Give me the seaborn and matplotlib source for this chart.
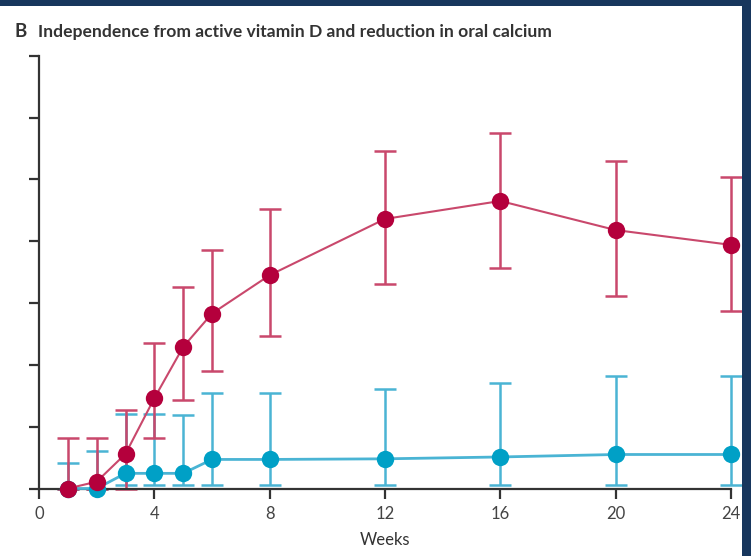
import numpy as np
import pandas as pd
import matplotlib
matplotlib.use("Agg")
import matplotlib.pyplot as plt
import seaborn as sns
from matplotlib.patches import Rectangle

# Weeks of follow-up
weeks = [1, 2, 3, 4, 5, 6, 8, 12, 16, 20, 24]

# Treatment group: proportion independent (%) with 95% CI bounds
red_mid = [0.0, 1.1, 5.6, 14.6, 22.9, 28.3, 34.5, 43.6, 46.5, 41.8, 39.4]
red_lo = [0.0, 0.0, 0.0, 8.1, 14.3, 19.0, 24.6, 33.0, 35.6, 31.1, 28.7]
red_hi = [8.1, 8.1, 12.7, 23.5, 32.6, 38.5, 45.2, 54.6, 57.5, 53.0, 50.4]

# Control group
blue_mid = [0.0, 0.0, 2.45, 2.45, 2.45, 4.7, 4.7, 4.8, 5.1, 5.5, 5.5]
blue_lo = [0.0, 0.0, 0.5, 0.5, 0.5, 0.55, 0.55, 0.55, 0.55, 0.55, 0.55]
blue_hi = [4.2, 6.1, 12.0, 12.0, 11.9, 15.5, 15.5, 16.1, 17.1, 18.2, 18.2]

x_ticks = [0, 4, 8, 12, 16, 20, 24]
y_ticks = [0, 10, 20, 30, 40, 50, 60, 70]

RED = "#b4003c"
RED_LINE = "#c9486c"
BLUE = "#00a0c6"
BLUE_LINE = "#4ab4d4"
AXIS = "#333333"

sns.set_theme(style="white")
plt.rcParams["font.family"] = ["Lato", "DejaVu Sans"]

df = pd.concat([
    pd.DataFrame({"week": weeks, "value": red_mid, "group": "active"}),
    pd.DataFrame({"week": weeks, "value": blue_mid, "group": "control"}),
])

fig = plt.figure(figsize=(7.51, 5.56), dpi=100)
ax = fig.add_axes([39 / 751, 1 - 488.5 / 556, (731 - 39) / 751, (488.5 - 55.7) / 556])

groups = [
    ("control", blue_mid, blue_lo, blue_hi, BLUE, BLUE_LINE, 2.0),
    ("active", red_mid, red_lo, red_hi, RED, RED_LINE, 1.5),
]
for name, mid, lo, hi, col, lcol, lw in groups:
    mid_a = np.array(mid)
    yerr = np.vstack([mid_a - np.array(lo), np.array(hi) - mid_a])
    ax.errorbar(weeks, mid, yerr=yerr, fmt="none", ecolor=lcol, elinewidth=1.8,
                capsize=8.0, capthick=1.8, clip_on=False, zorder=2)
    sns.lineplot(data=df[df["group"] == name], x="week", y="value", ax=ax,
                 color=lcol, linewidth=lw, marker="o", markersize=12.5,
                 markerfacecolor=col, markeredgecolor=col, markeredgewidth=0,
                 clip_on=False, zorder=3, legend=False)

ax.set_xlim(0, 24)
ax.set_ylim(0, 70)
ax.set_xticks(x_ticks)
ax.set_xticklabels([str(t) for t in x_ticks])
ax.set_yticks(y_ticks)
ax.set_yticklabels([])
ax.set_xlabel("Weeks", fontsize=12, color="#333333", labelpad=7)
ax.set_ylabel("")

for side in ["top", "right"]:
    ax.spines[side].set_visible(False)
for side in ["left", "bottom"]:
    ax.spines[side].set_color(AXIS)
    ax.spines[side].set_linewidth(1.6)
ax.tick_params(axis="both", direction="out", length=7.5, width=1.6, color=AXIS,
               labelsize=12, labelcolor="#444444", pad=5)
ax.tick_params(axis="y", left=True)
ax.tick_params(axis="x", bottom=True)
ax.grid(False)

# Panel heading
fig.text(15 / 751, 1 - 37 / 556, "B", fontsize=13.5, fontweight="bold", color="#333333")
fig.text(38 / 751, 1 - 37 / 556, "Independence from active vitamin D and reduction in oral calcium",
         fontsize=12.6, fontweight="bold", color="#333333")

# Frame band along the top and right edges
fig.patches.append(Rectangle((0, 1 - 6 / 556), 1, 6 / 556, transform=fig.transFigure,
                             facecolor="#17365d", edgecolor="none", zorder=10))
fig.patches.append(Rectangle((742 / 751, 0), 9 / 751, 1, transform=fig.transFigure,
                             facecolor="#17365d", edgecolor="none", zorder=10))

fig.savefig("out.png", dpi=100)
